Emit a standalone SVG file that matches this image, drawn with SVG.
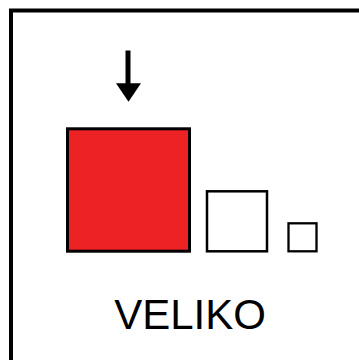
<svg xmlns="http://www.w3.org/2000/svg" width="359" height="360" viewBox="0 0 359 360">
<style>
.sq{stroke:#000;}
.lbl{font-family:"Liberation Sans",Arial,sans-serif;font-size:42px;fill:#000;}
</style>
<rect width="359" height="360" fill="#fff"/>
<rect x="11" y="10.5" width="400" height="400" fill="none" stroke="#000" stroke-width="4"/>
<g id="connectors">
<line x1="128" y1="50.5" x2="128" y2="85" stroke="#000" stroke-width="5"/>
<polygon points="116,83.3 141,83.3 128.5,101.7" fill="#000"/>
</g>
<g id="big"><rect class="sq" x="67.5" y="128.8" width="122" height="122.4" fill="#ED2224" stroke-width="3"/></g>
<g id="medium"><rect class="sq" x="207" y="191.3" width="60" height="60" fill="#fff" stroke-width="2.5"/></g>
<g id="small"><rect class="sq" x="288.5" y="223.3" width="28" height="28" fill="#fff" stroke-width="2.3"/></g>
<g id="label"><text class="lbl" x="190" y="329" text-anchor="middle">VELIKO</text></g>
</svg>
